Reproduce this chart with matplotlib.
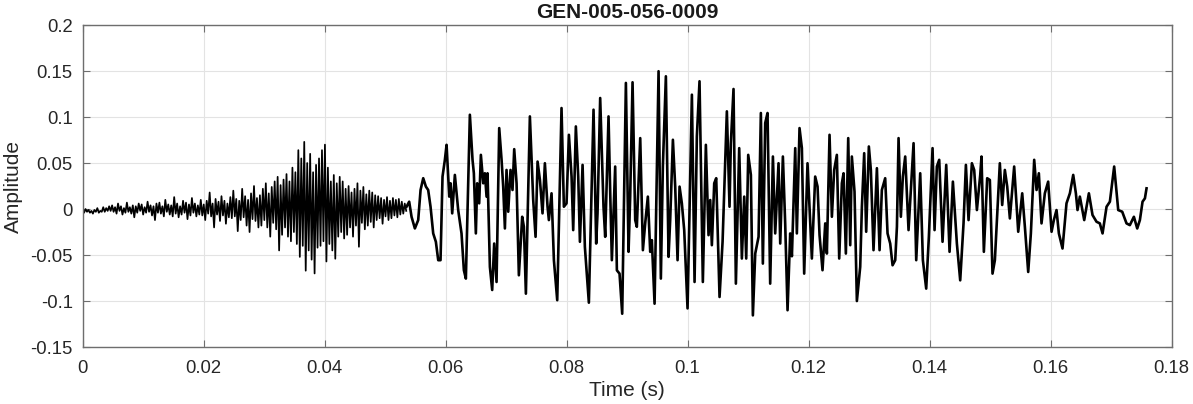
import matplotlib.pyplot as plt
import numpy as np

plt.rcParams['font.family'] = ['Liberation Sans', 'DejaVu Sans']
plt.rcParams['axes.unicode_minus'] = False

# Noisy first segment (0 - 0.0535 s), evenly spaced in time
noise_amp = [
    -0.002, -0.004, 0.000, -0.003, -0.001, -0.004, -0.002, -0.005, -0.001, -0.003,
    0.001, -0.004, -0.002, -0.003, 0.002, -0.003, 0.001, -0.002, 0.003, -0.002,
    0.004, -0.003, 0.002, -0.005, 0.006, -0.002, 0.003, -0.006, 0.001, -0.004,
    0.007, -0.003, 0.002, -0.005, 0.004, -0.009, 0.003, -0.004, 0.006, -0.002,
    0.005, -0.006, 0.002, -0.004, 0.008, -0.003, 0.004, -0.007, 0.003, -0.012,
    0.006, -0.004, 0.007, -0.005, 0.003, -0.008, 0.010, -0.003, 0.005, -0.006,
    0.004, -0.008, 0.013, -0.005, 0.006, -0.009, 0.003, -0.006, 0.009, -0.004,
    0.007, -0.011, 0.005, -0.007, 0.012, -0.004, 0.006, -0.008, 0.004, -0.006,
    0.010, -0.007, 0.005, -0.012, 0.009, -0.005, 0.018, -0.008, 0.006, -0.020,
    0.011, -0.006, 0.008, -0.013, 0.014, -0.007, 0.009, -0.016, 0.006, -0.009,
    0.013, -0.010, 0.020, -0.008, 0.011, -0.024, 0.009, -0.012, 0.022, -0.009,
    0.014, -0.018, 0.010, -0.025, 0.017, -0.011, 0.025, -0.013, 0.012, -0.020,
    0.015, -0.018, 0.022, -0.012, 0.028, -0.020, 0.017, -0.030, 0.024, -0.015,
    0.030, -0.022, 0.035, -0.045, 0.026, -0.028, 0.032, -0.020, 0.038, -0.030,
    0.030, -0.035, 0.045, -0.025, 0.040, -0.038, 0.064, -0.052, 0.055, -0.040,
    0.073, -0.067, 0.050, -0.045, 0.060, -0.055, 0.040, -0.070, 0.048, -0.042,
    0.055, -0.040, 0.064, -0.035, 0.070, -0.057, 0.045, -0.038, 0.030, -0.045,
    0.037, -0.054, 0.028, -0.030, 0.035, -0.025, 0.030, -0.032, 0.022, -0.028,
    0.025, -0.020, 0.018, -0.030, 0.022, -0.018, 0.028, -0.041, 0.020, -0.015,
    0.024, -0.022, 0.016, -0.018, 0.020, -0.014, 0.018, -0.020, 0.015, -0.012,
    0.014, -0.010, 0.012, -0.016, 0.010, -0.008, 0.013, -0.012, 0.009, -0.010,
    0.012, -0.007, 0.010, -0.009, 0.011, -0.006, 0.008, -0.005, 0.006, -0.002,
]
noise_end = 0.0535

# Smoother second segment: (time, amplitude) points
tail_t = [
    0.05355, 0.05399, 0.05438, 0.05493, 0.05548, 0.05587, 0.05631, 0.05675, 0.05713, 0.05752,
    0.05796, 0.05840, 0.05879, 0.05917, 0.05950, 0.05989, 0.06017, 0.06061, 0.06083, 0.06110,
    0.06154, 0.06209, 0.06264, 0.06303, 0.06336, 0.06402, 0.06446, 0.06468, 0.06501, 0.06523,
    0.06556, 0.06584, 0.06623, 0.06650, 0.06678, 0.06694, 0.06733, 0.06771, 0.06804, 0.06843,
    0.06887, 0.06926, 0.06953, 0.06981, 0.07008, 0.07036, 0.07074, 0.07107, 0.07135, 0.07174,
    0.07212, 0.07267, 0.07295, 0.07328, 0.07394, 0.07449, 0.07488, 0.07521, 0.07560, 0.07603,
    0.07642, 0.07686, 0.07708, 0.07752, 0.07791, 0.07846, 0.07917, 0.07956, 0.08000, 0.08039,
    0.08083, 0.08110, 0.08154, 0.08193, 0.08221, 0.08265, 0.08303, 0.08369,
    0.08446, 0.08490, 0.08512, 0.08556, 0.08611, 0.08639, 0.08694, 0.08722, 0.08749, 0.08804,
    0.08832, 0.08876, 0.08920, 0.08981, 0.09025, 0.09052, 0.09091, 0.09135, 0.09162, 0.09218,
    0.09262, 0.09300, 0.09344, 0.09383, 0.09410, 0.09455, 0.09521, 0.09559, 0.09592, 0.09642,
    0.09686, 0.09713, 0.09758, 0.09796, 0.09835, 0.09868, 0.09906, 0.09945, 0.10000, 0.10072,
    0.10116, 0.10154, 0.10198, 0.10253, 0.10303, 0.10347, 0.10375, 0.10402, 0.10441, 0.10474,
    0.10529, 0.10579, 0.10650, 0.10694, 0.10716, 0.10760, 0.10799, 0.10854, 0.10898, 0.10937,
    0.10970, 0.11003, 0.11047, 0.11080, 0.11119, 0.11174, 0.11212, 0.11245, 0.11284, 0.11322,
    0.11366, 0.11411, 0.11449, 0.11504, 0.11532, 0.11576, 0.11614, 0.11653,
    0.11697, 0.11725, 0.11780, 0.11807, 0.11851, 0.11890, 0.11928, 0.11983, 0.12055, 0.12110,
    0.12149, 0.12182, 0.12231, 0.12276, 0.12303, 0.12347, 0.12386, 0.12424, 0.12468, 0.12507,
    0.12551, 0.12579, 0.12617, 0.12656, 0.12689, 0.12716, 0.12760, 0.12799, 0.12854, 0.12882,
    0.12920, 0.12953, 0.12997, 0.13030, 0.13074, 0.13130, 0.13174, 0.13212, 0.13267, 0.13306,
    0.13350, 0.13389, 0.13433, 0.13461, 0.13488, 0.13526, 0.13559, 0.13598, 0.13653, 0.13736,
    0.13780, 0.13846, 0.13890, 0.13945, 0.13989, 0.14050, 0.14083, 0.14121, 0.14160, 0.14215,
    0.14276, 0.14331, 0.14386, 0.14452, 0.14507, 0.14562, 0.14601, 0.14645, 0.14700, 0.14738,
    0.14783, 0.14838,
    0.14859, 0.14898, 0.14953, 0.14997, 0.15041, 0.15080, 0.15162, 0.15201, 0.15245, 0.15284,
    0.15328, 0.15399, 0.15466, 0.15532, 0.15576, 0.15631, 0.15675, 0.15730, 0.15769, 0.15807,
    0.15851, 0.15906, 0.15961, 0.16017, 0.16055, 0.16099, 0.16138, 0.16198, 0.16264, 0.16320,
    0.16375, 0.16419, 0.16446, 0.16485, 0.16557, 0.16634, 0.16694, 0.16760, 0.16815, 0.16860,
    0.16926, 0.16981, 0.17052, 0.17119, 0.17185, 0.17256, 0.17311, 0.17378, 0.17433, 0.17477,
    0.17521, 0.17560, 0.17587,
]
tail_amp = [
    0.0025, 0.0080, -0.0084, -0.0211, -0.0120, 0.0207, 0.0335, 0.0244, 0.0207, 0.0025,
    -0.0265, -0.0356, -0.0556, -0.0556, 0.0353, 0.0535, 0.0698, 0.0135, 0.0280, -0.0047,
    0.0371, -0.0011, -0.0265, -0.0665, -0.0756, 0.1025, 0.0535, 0.0389, -0.0265, 0.0280,
    0.0062, 0.0589, 0.0280, 0.0389, 0.0135, 0.0389, -0.0629, -0.0880, -0.0375, -0.0793,
    0.0880, 0.0535, 0.0244, -0.0211, 0.0425, -0.0029, 0.0425, 0.0207, 0.0651, 0.0280,
    -0.0720, -0.0084, -0.0193, -0.0920, 0.1007, 0.0098, -0.0302, 0.0516, 0.0316, -0.0047,
    0.0498, 0.0025, -0.0120, 0.0171, -0.0556, -0.0991, 0.1098, 0.0025, 0.0062, 0.0807,
    0.0353, -0.0229, 0.0898, 0.0353, -0.0356, 0.0480, -0.0411, -0.1018,
    0.1080, -0.0375, -0.0047, 0.1207, 0.0025, -0.0302, 0.1007, 0.0171, -0.0556, 0.0462,
    -0.0666, -0.0702, -0.1138, 0.1371, -0.0465, 0.0135, 0.1378, -0.0120, -0.0193, 0.0771,
    -0.0447, -0.0156, 0.0135, -0.0465, -0.0338, -0.1029, 0.1498, -0.0756, 0.0462, 0.1443,
    -0.0520, -0.0120, 0.0753, 0.0244, -0.0556, 0.0244, 0.0062, -0.0229, -0.1080, 0.1243,
    -0.0793, 0.0789, 0.1389, -0.0793, 0.0698, -0.0284, 0.0098, -0.0393, 0.0280, 0.0335,
    -0.0956, -0.0356, 0.1062, 0.0025, 0.0716, 0.1305, -0.0811, 0.0662, -0.0538, 0.0135,
    -0.0538, 0.0589, 0.0371, -0.1156, -0.0484, -0.0302, 0.1044, -0.0593, 0.0935, 0.1044,
    -0.0811, 0.0571, -0.0265, 0.0498, -0.0375, 0.0571, -0.0156, -0.1100,
    -0.0265, -0.0513, 0.0662, -0.0265, 0.0880, 0.0662, -0.0702, 0.0498, -0.0538, 0.0353,
    0.0244, -0.0284, -0.0665, -0.0156, -0.0484, 0.0807, -0.0084, 0.0425, 0.0589, -0.0538,
    0.0280, 0.0389, -0.0484, 0.0771, -0.0393, 0.0571, 0.0189, -0.1000, -0.0629, 0.0025,
    0.0607, -0.0247, 0.0680, 0.0425, -0.0447, 0.0444, -0.0447, 0.0207, 0.0335, -0.0265,
    -0.0375, -0.0611, -0.0556, -0.0193, 0.0771, -0.0084, 0.0353, 0.0571, -0.0229, 0.0716,
    -0.0556, 0.0389, -0.0556, -0.0865, -0.0302, 0.0662, -0.0229, 0.0462, 0.0535, -0.0356,
    0.0480, -0.0465, 0.0298, -0.0375, -0.0775, -0.0156, 0.0480, -0.0120, 0.0498, 0.0425,
    -0.0011, 0.0371,
    0.0571, -0.0465, 0.0335, 0.0316, -0.0702, -0.0556, 0.0498, 0.0044, 0.0425, 0.0244,
    -0.0102, 0.0462, -0.0247, 0.0171, -0.0193, -0.0684, -0.0265, 0.0535, 0.0207, 0.0389,
    -0.0156, 0.0171, 0.0298, -0.0247, -0.0120, -0.0011, -0.0265, -0.0429, 0.0062, 0.0171,
    0.0371, 0.0171, -0.0011, 0.0135, -0.0120, 0.0171, -0.0065, -0.0138, -0.0156, -0.0265,
    0.0025, 0.0080, 0.0462, -0.0011, -0.0029, -0.0156, -0.0175, -0.0084, -0.0211, -0.0120,
    0.0080, 0.0116, 0.0225,
]

x_ticks = [0, 0.02, 0.04, 0.06, 0.08, 0.1, 0.12, 0.14, 0.16, 0.18]
x_labels = ['0', '0.02', '0.04', '0.06', '0.08', '0.1', '0.12', '0.14', '0.16', '0.18']
y_ticks = [-0.15, -0.1, -0.05, 0, 0.05, 0.1, 0.15, 0.2]
y_labels = ['-0.15', '-0.1', '-0.05', '0', '0.05', '0.1', '0.15', '0.2']

noise_t = np.linspace(0, noise_end, len(noise_amp))

fig = plt.figure(figsize=(11.93, 4.04), dpi=100)
ax = fig.add_axes([0.0692, 0.141, 0.9128, 0.797])

ax.plot(noise_t, noise_amp, color='black', linewidth=1.25)
ax.plot(tail_t, tail_amp, color='black', linewidth=1.9)

ax.set_xlim(0, 0.18)
ax.set_ylim(-0.15, 0.2)
ax.set_xticks(x_ticks)
ax.set_xticklabels(x_labels)
ax.set_yticks(y_ticks)
ax.set_yticklabels(y_labels)

ax.grid(True, color='#e3e3e3', linewidth=0.8)
ax.set_axisbelow(True)
for s in ax.spines.values():
    s.set_color('#6e6e6e')
    s.set_linewidth(1.0)
ax.tick_params(direction='in', top=True, right=True, length=5, width=0.8,
               color='#6e6e6e', labelcolor='#262626', labelsize=13.3)
ax.tick_params(axis='y', pad=7)
ax.tick_params(axis='x', pad=9)

ax.set_xlabel('Time (s)', fontsize=15, color='#262626', labelpad=3)
ax.set_ylabel('Amplitude', fontsize=15, color='#262626', labelpad=5)
ax.set_title('GEN-005-056-0009', fontsize=15, fontweight='bold', color='#1a1a1a', pad=5)

plt.savefig('out.png', dpi=100)
